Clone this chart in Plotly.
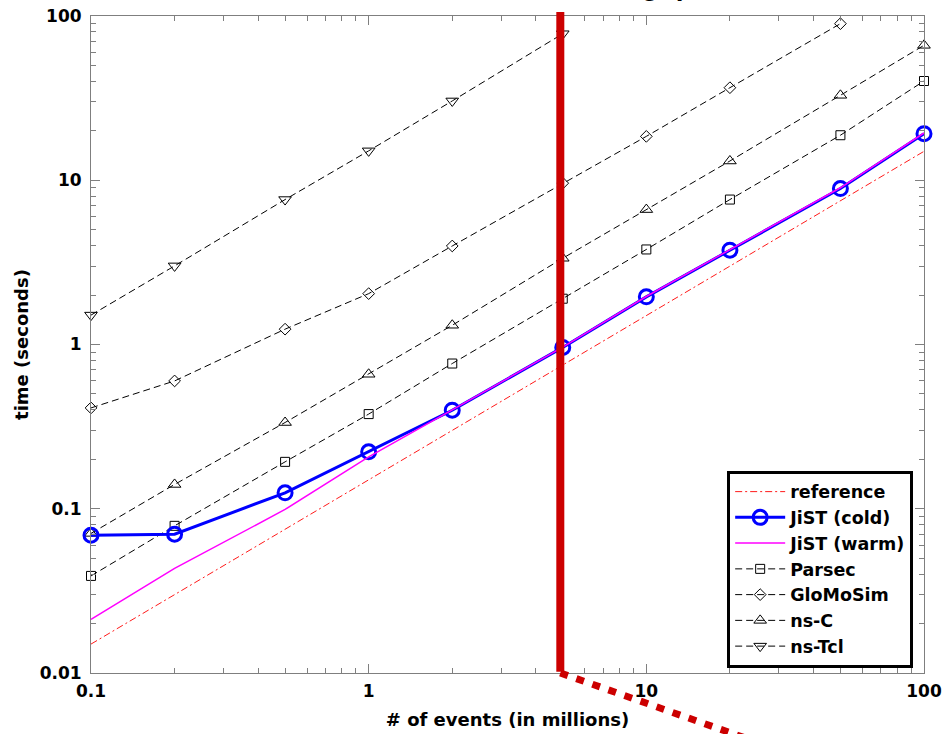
import plotly.graph_objects as go

# ---------------- data ----------------
events_millions = [0.1, 0.2, 0.5, 1, 2, 5, 10, 20, 50, 100]

reference_time = [0.015, 0.030, 0.075, 0.15, 0.30, 0.75, 1.5, 3.0, 7.5, 15.0]
jist_cold_time = [0.069, 0.070, 0.125, 0.222, 0.398, 0.96, 1.95, 3.75, 8.9, 19.2]
jist_warm_time = [0.0212, 0.0433, 0.099, 0.207, 0.400, 0.965, 1.96, 3.78, 9.0, 19.4]
parsec_time = [0.039, 0.0787, 0.193, 0.377, 0.766, 1.90, 3.79, 7.63, 18.8, 40.2]
glomosim_time = [0.411, 0.60, 1.24, 2.04, 3.98, 9.6, 18.5, 36.6, 89.8]
nsc_time = [0.0708, 0.1406, 0.335, 0.659, 1.31, 3.35, 6.63, 13.1, 32.9, 66.3]
nstcl_time = [1.51, 3.01, 7.63, 15.1, 30.4, 78.0]

x_tick_vals = [0.1, 1, 10, 100]
x_tick_text = ["0.1", "1", "10", "100"]
y_tick_vals = [0.01, 0.1, 1, 10, 100]
y_tick_text = ["0.01", "0.1", "1", "10", "100"]

highlight_events = 4.9  # red marker line (millions of events)

title_text = "Event throughput"
x_title = "# of events (in millions)"
y_title = "time (seconds)"

# ---------------- styling ----------------
FONT = "DejaVu Sans, sans-serif"
TITLE_FONT = "Liberation Sans, Arial, sans-serif"
AXIS_GREY = "#7f7f7f"
BLACK_DASH = "7px,4px"

fig = go.Figure()

def n(vals):
    return events_millions[: len(vals)]

# black dashed series (drawn first)
fig.add_trace(go.Scatter(
    x=n(parsec_time), y=parsec_time, name="Parsec", mode="lines+markers",
    line=dict(color="black", width=1, dash=BLACK_DASH),
    marker=dict(symbol="square-open", size=9, color="black", line=dict(width=1)),
    cliponaxis=False, legendrank=4))
fig.add_trace(go.Scatter(
    x=n(glomosim_time), y=glomosim_time, name="GloMoSim", mode="lines+markers",
    line=dict(color="black", width=1, dash=BLACK_DASH),
    marker=dict(symbol="diamond-open", size=9, color="black", line=dict(width=1)),
    cliponaxis=False, legendrank=5))
fig.add_trace(go.Scatter(
    x=n(nsc_time), y=nsc_time, name="ns-C", mode="lines+markers",
    line=dict(color="black", width=1, dash=BLACK_DASH),
    marker=dict(symbol="triangle-up-open", size=11, color="black", line=dict(width=1)),
    cliponaxis=False, legendrank=6))
fig.add_trace(go.Scatter(
    x=n(nstcl_time), y=nstcl_time, name="ns-Tcl", mode="lines+markers",
    line=dict(color="black", width=1, dash=BLACK_DASH),
    marker=dict(symbol="triangle-down-open", size=11, color="black", line=dict(width=1)),
    cliponaxis=False, legendrank=7))
fig.add_trace(go.Scatter(
    x=n(reference_time), y=reference_time, name="reference", mode="lines",
    line=dict(color="#ff1a1a", width=1, dash="7px,3px,2px,3px"),
    cliponaxis=False, legendrank=1))
fig.add_trace(go.Scatter(
    x=n(jist_cold_time), y=jist_cold_time, name="JiST (cold)", mode="lines+markers",
    line=dict(color="#0000ff", width=3),
    marker=dict(symbol="circle-open", size=14, color="#0000ff", line=dict(width=3)),
    cliponaxis=False, legendrank=2))
fig.add_trace(go.Scatter(
    x=n(jist_warm_time), y=jist_warm_time, name="JiST (warm)", mode="lines",
    line=dict(color="#ff00ff", width=1.5),
    cliponaxis=False, legendrank=3))

axis_common = dict(
    type="log",
    automargin=False,
    showgrid=False,
    zeroline=False,
    showline=True,
    linecolor=AXIS_GREY,
    linewidth=1,
    mirror="allticks",
    ticks="inside",
    ticklen=9,
    tickwidth=1,
    tickcolor=AXIS_GREY,
    tickfont=dict(family=FONT, size=17, color="black", weight="bold"),
    tickmode="array",
)

minor_vals_x = [m * 10 ** e for e in (-1, 0, 1) for m in range(2, 10)]
minor_vals_y = [m * 10 ** e for e in (-2, -1, 0, 1) for m in range(2, 10)]

fig.update_xaxes(
    **axis_common,
    range=[-1, 2],
    tickvals=x_tick_vals, ticktext=x_tick_text,
    ticklabelstandoff=3,
    minor=dict(tickmode="array", tickvals=minor_vals_x, ticks="inside",
               ticklen=5, tickcolor=AXIS_GREY, showgrid=False),
    title=dict(text=x_title, font=dict(family=FONT, size=18, color="black", weight="bold"),
               standoff=12),
)
fig.update_yaxes(
    **axis_common,
    range=[-2, 2],
    tickvals=y_tick_vals, ticktext=y_tick_text,
    ticklabelstandoff=5,
    minor=dict(tickmode="array", tickvals=minor_vals_y, ticks="inside",
               ticklen=5, tickcolor=AXIS_GREY, showgrid=False),
    title=dict(text=y_title, font=dict(family=FONT, size=18, color="black", weight="bold"),
               standoff=6),
)

# red highlight: vertical bar at ~5M events and a dotted tail leaving the plot
fig.add_shape(type="line", xref="x", yref="paper",
              x0=highlight_events, x1=highlight_events, y0=0.002, y1=1.006,
              line=dict(color="#cc0000", width=8))
fig.add_shape(type="line", xref="x", yref="paper",
              x0=highlight_events, x1=27, y0=0.0, y1=-0.11,
              line=dict(color="#cc0000", width=7, dash="8px,9px"))

# title (mostly cut off by the top of the page, as in the source)
fig.add_annotation(text=title_text, xref="paper", yref="paper",
                   x=0.472, y=1.020, xanchor="left", yanchor="bottom",
                   showarrow=False,
                   font=dict(family=TITLE_FONT, size=28, color="black", weight="bold"))

fig.update_layout(
    width=942, height=734,
    margin=dict(l=91, r=18, t=16, b=61),
    paper_bgcolor="white",
    plot_bgcolor="white",
    showlegend=True,
    legend=dict(
        x=0.987, y=0.008, xanchor="right", yanchor="bottom",
        bgcolor="white", bordercolor="black", borderwidth=3,
        font=dict(family=FONT, size=17.5, color="black", weight="bold"),
        tracegroupgap=0, itemwidth=50,
    ),
)

fig.write_html("out.html", config=dict(displayModeBar=False),
               post_script="document.body.style.margin='0';")
